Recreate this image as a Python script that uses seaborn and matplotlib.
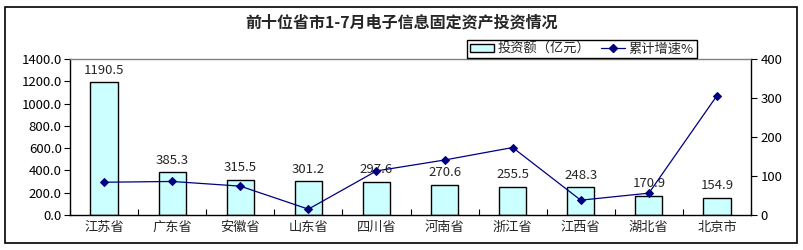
import matplotlib
matplotlib.use("Agg")
import matplotlib.pyplot as plt
from matplotlib.patches import Rectangle, Patch
from matplotlib.lines import Line2D
from matplotlib.ticker import FixedLocator
import seaborn as sns
import pandas as pd

provinces = ["江苏省", "广东省", "安徽省", "山东省", "四川省", "河南省", "浙江省", "江西省", "湖北省", "北京市"]
investment = [1190.5, 385.3, 315.5, 301.2, 297.6, 270.6, 255.5, 248.3, 170.9, 154.9]
growth = [84, 86, 74, 15, 113, 141, 173, 38, 56, 306]
title = "前十位省市1-7月电子信息固定资产投资情况"
bar_name = "投资额（亿元）"
line_name = "累计增速%"

sns.set_theme(style="white")
plt.rcParams['font.family'] = ['Noto Sans CJK SC', 'DejaVu Sans']

df = pd.DataFrame({"province": provinces, "investment": investment, "growth": growth})

fig = plt.figure(figsize=(8.04, 2.5), dpi=100)
ax = fig.add_axes([70/804, 1-215/250, 681/804, 156/250])

sns.barplot(data=df, x="province", y="investment", order=provinces, ax=ax,
            color="#CCFFFF", edgecolor="black", linewidth=1, width=0.4, saturation=1)
ax.set_xlim(-0.5, 9.5)
ax.set_ylim(0, 1400)
ax.set_yticks([0, 200, 400, 600, 800, 1000, 1200, 1400])
ax.set_yticklabels([f"{v:.1f}" for v in [0, 200, 400, 600, 800, 1000, 1200, 1400]])
for c in ax.containers:
    ax.bar_label(c, labels=[f"{v:.1f}" for v in investment], padding=4, fontsize=9.5)
ax.set_xlabel("")
ax.set_ylabel("")
ax.tick_params(axis="y", direction="out", length=4, width=0.8, labelsize=9.5, pad=2, left=True, colors="black")
ax.tick_params(axis="x", which="major", length=0, labelsize=9.5, pad=4)
ax.xaxis.set_minor_locator(FixedLocator([i + 0.5 for i in range(-1, 10)]))
ax.tick_params(axis="x", which="minor", direction="in", length=4, width=0.8, bottom=True, color="black")
for s in ["left", "bottom", "right"]:
    ax.spines[s].set_color("black")
    ax.spines[s].set_linewidth(1)
ax.spines["top"].set_color("#808080")
ax.spines["top"].set_linewidth(1)

ax2 = ax.twinx()
sns.lineplot(x=list(range(len(provinces))), y=growth, ax=ax2, color="#000080", marker="D",
             markersize=4.5, markeredgecolor="#000080", linewidth=0.9, sort=False)
ax2.set_ylim(0, 400)
ax2.set_yticks([0, 100, 200, 300, 400])
ax2.tick_params(axis="y", direction="out", length=4, width=0.8, labelsize=9.5, pad=3, right=True, colors="black")
for s in ax2.spines.values():
    s.set_visible(False)
ax.set_xlim(-0.5, 9.5)

fig.text(0.5, 1-22/250, title, ha="center", va="center", fontsize=11.5, fontweight="bold")

handles = [Patch(facecolor="#CCFFFF", edgecolor="black", linewidth=1),
           Line2D([0], [0], color="#000080", marker="D", markersize=4, linewidth=0.9)]
leg = fig.legend(handles, [bar_name, line_name], loc="center", bbox_to_anchor=(582/804, 1-49/250),
                 ncol=2, fontsize=9.5, frameon=True, fancybox=False, framealpha=1,
                 edgecolor="black", borderpad=0.2, handlelength=1.8, handleheight=0.6,
                 columnspacing=0.8, handletextpad=0.3, borderaxespad=0)
leg.get_frame().set_linewidth(1)

fig.patches.append(Rectangle((5/804, 7/250), 792/804, 236/250, transform=fig.transFigure,
                             fill=False, edgecolor="black", linewidth=1.2))

fig.savefig("out.png", dpi=100)
